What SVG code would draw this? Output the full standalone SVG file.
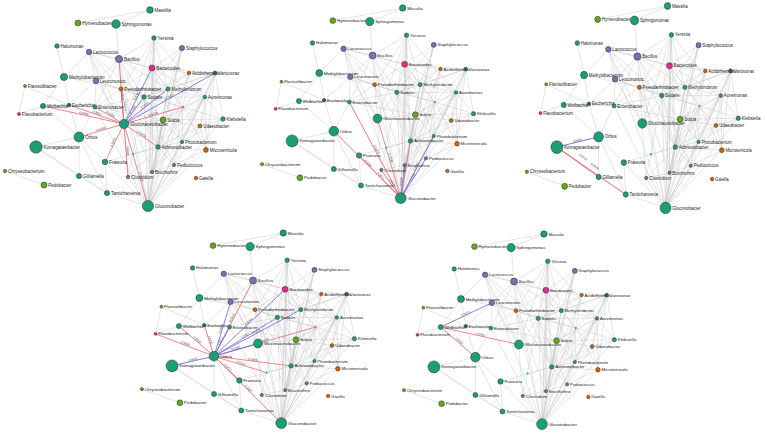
<svg xmlns="http://www.w3.org/2000/svg" xmlns:xlink="http://www.w3.org/1999/xlink" width="767" height="435" viewBox="0 0 767 435">
<style>
.e{stroke:#cacaca;stroke-width:0.5;fill:none}
.r{stroke:#e5676b;stroke-width:0.8}
.u{stroke:#6a5fd6;stroke-width:0.8}
circle{stroke:#2a2a2a;stroke-width:0.5}
.g{fill:#1b9e77}.p{fill:#7570b3}.o{fill:#d95f02}.k{fill:#e7298a}.y{fill:#66a61e}.b{fill:#a6761d}.d{fill:#176b52}.s{fill:#2fc48a;stroke:none}
.t{font-family:"Liberation Sans",Arial,sans-serif;font-size:4.5px;fill:#222}
.w{font-family:"Liberation Sans",Arial,sans-serif;font-size:3.1px;fill:#444;text-anchor:middle}
</style>
<defs>
<path id="grayNet" class="e" d="M150 10L78 23M150 10L116 24M116 24L119 59M57 46L64 77M89 52L64 77M89 52L119 59M89 52L96 81M89 52L121 89M89 52L124 124M89 52L152 68M89 52L144 97M89 52L148 206M154 38L152 68M154 38L168 89M154 38L144 97M154 38L121 89M154 38L124 124M154 38L158 147M154 38L152 172M154 38L205 97M154 38L119 59M154 38L148 206M182 48L152 68M182 48L168 89M182 48L144 97M182 48L158 147M182 48L152 172M182 48L148 206M119 59L152 68M119 59L121 89M119 59L144 97M119 59L168 89M119 59L158 147M119 59L95 107M119 59L96 81M119 59L148 206M152 68L121 89M152 68L168 89M152 68L144 97M152 68L189 73M152 68L215 73M152 68L205 97M152 68L158 147M152 68L152 172M152 68L182 142M152 68L183 107M152 68L148 206M189 73L215 73M189 73L168 89M189 73L144 97M189 73L183 107M189 73L158 147M189 73L148 206M215 73L168 89M215 73L205 97M215 73L183 107M215 73L223 119M215 73L200 126M215 73L182 142M215 73L206 150M215 73L144 97M215 73L148 206M64 77L96 81M64 77L69 105M64 77L43 106M64 77L121 89M96 81L121 89M96 81L95 107M96 81L69 105M96 81L144 97M96 81L124 124M25 86L19 114M25 86L69 105M121 89L168 89M121 89L144 97M121 89L95 107M121 89L158 147M121 89L152 172M121 89L128 177M121 89L183 107M121 89L148 206M168 89L144 97M168 89L205 97M168 89L183 107M168 89L158 147M168 89L152 172M168 89L148 206M144 97L205 97M144 97L183 107M144 97L163 120M144 97L158 147M144 97L152 172M144 97L128 177M144 97L148 206M144 97L174 165M205 97L183 107M205 97L223 119M205 97L200 126M205 97L158 147M205 97L163 120M205 97L182 142M205 97L206 150M205 97L152 172M205 97L148 206M43 106L69 105M43 106L95 107M43 106L79 137M43 106L19 114M69 105L95 107M69 105L79 137M95 107L79 137M95 107L163 120M95 107L144 97M95 107L148 206M183 107L163 120M183 107L223 119M183 107L200 126M183 107L158 147M183 107L182 142M183 107L152 172M183 107L174 165M183 107L148 206M183 107L206 150M163 120L158 147M163 120L200 126M163 120L182 142M163 120L152 172M163 120L148 206M163 120L223 119M223 119L200 126M223 119L182 142M223 119L148 206M200 126L182 142M200 126L158 147M200 126L206 150M200 126L148 206M79 137L36 147M79 137L105 162M79 137L79 176M79 137L107 193M36 147L79 176M36 147L107 193M5 171L44 185M79 176L107 193M105 162L107 193M105 162L148 206M105 162L158 147M158 147L182 142M158 147L152 172M158 147L174 165M158 147L148 206M158 147L128 177M158 147L206 150M182 142L174 165M182 142L152 172M182 142L148 206M206 150L174 165M206 150L148 206M174 165L152 172M174 165L148 206M152 172L148 206M152 172L128 177M128 177L148 206M133 154L158 147M107 193L148 206M124 124L163 120M124 124L144 97"/>
</defs>
<rect width="767" height="435" fill="#ffffff"/>

<g id="connectors">
<g id="p1-edges">
<use xlink:href="#grayNet" href="#grayNet"/>
<g class="r"><line x1="124" y1="124" x2="119" y2="59"/><line x1="124" y1="124" x2="121" y2="89"/><line x1="124" y1="124" x2="43" y2="106"/><line x1="124" y1="124" x2="69" y2="105"/><line x1="124" y1="124" x2="95" y2="107"/><line x1="124" y1="124" x2="79" y2="137"/><line x1="124" y1="124" x2="105" y2="162"/><line x1="124" y1="124" x2="128" y2="177"/><line x1="124" y1="124" x2="148" y2="206"/><line x1="124" y1="124" x2="158" y2="147"/><line x1="124" y1="124" x2="183" y2="107"/></g>
<g class="u"><line x1="124" y1="124" x2="152" y2="68"/><line x1="124" y1="124" x2="144" y2="97"/><line x1="124" y1="124" x2="168" y2="89"/><line x1="124" y1="124" x2="215" y2="73"/></g>
<g class="w">
<text transform="translate(120.8,96) rotate(85.6)" dy="-0.6">0.5531</text>
<text transform="translate(123.6,106.5) rotate(85.1)" dy="-0.6">0.5479</text>
<text transform="translate(83.5,115) rotate(12.5)" dy="-0.6">0.5696</text>
<text transform="translate(96.5,114.5) rotate(19.1)" dy="-0.6">0.5612</text>
<text transform="translate(109.5,115.5) rotate(30.4)" dy="-0.6">0.5562</text>
<text transform="translate(101.5,130.5) rotate(-16.1)" dy="-0.6">0.5930</text>
<text transform="translate(114.5,143) rotate(-63.4)" dy="-0.6">0.5823</text>
<text transform="translate(126,150.5) rotate(85.7)" dy="-0.6">0.5898</text>
<text transform="translate(139.6,177.3) rotate(73.7)" dy="-0.6">0.7026</text>
<text transform="translate(141,135.5) rotate(34.1)" dy="-0.6">0.5878</text>
<text transform="translate(153.5,115.5) rotate(-16.1)" dy="-0.6">0.5418</text>
<text transform="translate(138,96) rotate(-63.4)" dy="-0.6">0.5467</text>
<text transform="translate(134,110.5) rotate(-53.5)" dy="-0.6">0.5385</text>
<text transform="translate(146,106.5) rotate(-38.5)" dy="-0.6">0.5271</text>
<text transform="translate(169.5,98.5) rotate(-29.3)" dy="-0.6">0.5322</text>
</g>
</g>
<g id="p2-edges" transform="translate(257.2,-1.7) scale(0.97)">
<use xlink:href="#grayNet" href="#grayNet"/>
<g class="r"><line x1="148" y1="206" x2="95" y2="107"/><line x1="148" y1="206" x2="79" y2="137"/><line x1="148" y1="206" x2="124" y2="124"/><line x1="148" y1="206" x2="105" y2="162"/><line x1="148" y1="206" x2="158" y2="147"/><line x1="148" y1="206" x2="128" y2="177"/></g>
<g class="u"><line x1="148" y1="206" x2="152" y2="172"/><line x1="148" y1="206" x2="174" y2="165"/><line x1="148" y1="206" x2="182" y2="142"/></g>
<g class="w">
<text transform="translate(121.5,156.5) rotate(61.8)" dy="-0.6">0.5674</text>
<text transform="translate(113.5,171.5) rotate(45)" dy="-0.6">0.5597</text>
<text transform="translate(136,165) rotate(73.7)" dy="-0.6">0.7026</text>
<text transform="translate(126.5,184) rotate(45.7)" dy="-0.6">0.5823</text>
<text transform="translate(153,176.5) rotate(-80.4)" dy="-0.6">0.5592</text>
<text transform="translate(138,191.5) rotate(55.4)" dy="-0.6">0.5516</text>
<text transform="translate(150,189) rotate(-83.3)" dy="-0.6">0.5645</text>
<text transform="translate(161,185.5) rotate(-57.6)" dy="-0.6">0.5318</text>
<text transform="translate(165,174) rotate(-62)" dy="-0.6">0.5402</text>
</g>
</g>
<g id="p3-edges" transform="translate(522,-4.3) scale(0.97,1.03)">
<use xlink:href="#grayNet" href="#grayNet"/>
<line class="u" x1="36" y1="147" x2="79" y2="137"/>
<line class="r" x1="36" y1="147" x2="79" y2="176"/>
<line class="r" x1="36" y1="147" x2="107" y2="193"/>
<g class="w">
<text transform="translate(57.5,142) rotate(-13.1)" dy="-0.6">0.6443</text>
<text transform="translate(62,158) rotate(34)" dy="-0.6">0.5726</text>
<text transform="translate(74,167) rotate(32.9)" dy="-0.6">0.5528</text>
</g>
</g>
<g id="p4-edges" transform="translate(137,223.3) scale(0.975,0.97)">
<use xlink:href="#grayNet" href="#grayNet"/>
<g class="r"><line x1="79" y1="137" x2="119" y2="59"/><line x1="79" y1="137" x2="43" y2="106"/><line x1="79" y1="137" x2="69" y2="105"/><line x1="79" y1="137" x2="19" y2="114"/><line x1="79" y1="137" x2="183" y2="107"/><line x1="79" y1="137" x2="158" y2="147"/><line x1="79" y1="137" x2="133" y2="154"/><line x1="79" y1="137" x2="105" y2="162"/><line x1="79" y1="137" x2="148" y2="206"/></g>
<g class="u"><line x1="79" y1="137" x2="96" y2="81"/><line x1="79" y1="137" x2="152" y2="68"/><line x1="79" y1="137" x2="144" y2="97"/><line x1="79" y1="137" x2="168" y2="89"/><line x1="79" y1="137" x2="124" y2="124"/><line x1="79" y1="137" x2="36" y2="147"/><line x1="79" y1="137" x2="95" y2="107"/></g>
<g class="w">
<text transform="translate(99,98) rotate(-62.9)" dy="-0.6">0.5618</text>
<text transform="translate(61,121.5) rotate(40.7)" dy="-0.6">0.5528</text>
<text transform="translate(74,121) rotate(72.6)" dy="-0.6">0.5731</text>
<text transform="translate(49,125.5) rotate(21)" dy="-0.6">0.5686</text>
<text transform="translate(131,122) rotate(-16.1)" dy="-0.6">0.5413</text>
<text transform="translate(118.5,142) rotate(7.2)" dy="-0.6">0.5884</text>
<text transform="translate(106,145.5) rotate(17.5)" dy="-0.6">0.5412</text>
<text transform="translate(92,149.5) rotate(43.9)" dy="-0.6">0.5425</text>
<text transform="translate(113.5,171.5) rotate(45)" dy="-0.6">0.5597</text>
<text transform="translate(87.5,109) rotate(-73.1)" dy="-0.6">0.5526</text>
<text transform="translate(115.5,102.5) rotate(-43.4)" dy="-0.6">0.5302</text>
<text transform="translate(111.5,117) rotate(-31.6)" dy="-0.6">0.5487</text>
<text transform="translate(123.5,113) rotate(-28.3)" dy="-0.6">0.5251</text>
<text transform="translate(101.5,130.5) rotate(-16.1)" dy="-0.6">0.5930</text>
<text transform="translate(57.5,142) rotate(-13.1)" dy="-0.6">0.6443</text>
<text transform="translate(87,122) rotate(-61.9)" dy="-0.6">0.5377</text>
</g>
</g>
<g id="p5-edges" transform="translate(399.2,224.3) scale(0.965,0.97)">
<use xlink:href="#grayNet" href="#grayNet"/>
<line class="u" x1="43" y1="106" x2="96" y2="81"/>
<line class="r" x1="43" y1="106" x2="124" y2="124"/>
<line class="r" x1="43" y1="106" x2="79" y2="137"/>
<g class="w">
<text transform="translate(69.5,93.5) rotate(-25.3)" dy="-0.6">0.5372</text>
<text transform="translate(83.5,115) rotate(12.5)" dy="-0.6">0.5798</text>
<text transform="translate(61,121.5) rotate(40.7)" dy="-0.6">0.5528</text>
</g>
</g>
</g>

<g id="panel1">
<g id="p1-Massilia"><circle class="g" cx="150" cy="10" r="3.3"/><text class="t" x="154.6" y="11.6">Massilia</text></g>
<g id="p1-Hymenobacter"><circle class="y" cx="78" cy="23" r="3"/><text class="t" x="82.3" y="24.6">Hymenobacter</text></g>
<g id="p1-Sphingomonas"><circle class="g" cx="116" cy="24" r="4.3"/><text class="t" x="121.6" y="25.6">Sphingomonas</text></g>
<g id="p1-Yersinia"><circle class="g" cx="154" cy="38" r="2.3"/><text class="t" x="157.6" y="39.6">Yersinia</text></g>
<g id="p1-Halomonas"><circle class="g" cx="57" cy="46" r="2.3"/><text class="t" x="60.6" y="47.6">Halomonas</text></g>
<g id="p1-Lactococcus"><circle class="p" cx="89" cy="52" r="2.8"/><text class="t" x="93.1" y="53.6">Lactococcus</text></g>
<g id="p1-Staphylococcus"><circle class="p" cx="182" cy="48" r="2.6"/><text class="t" x="185.9" y="49.6">Staphylococcus</text></g>
<g id="p1-Bacillus"><circle class="p" cx="119" cy="59" r="3.6"/><text class="t" x="123.9" y="60.6">Bacillus</text></g>
<g id="p1-Bacteroides"><circle class="k" cx="152" cy="68" r="3"/><text class="t" x="156.3" y="69.6">Bacteroides</text></g>
<g id="p1-Acidothermus"><circle class="o" cx="189" cy="73" r="1.8"/><text class="t" x="192.1" y="74.6">Acidothermus</text></g>
<g id="p1-Variovorax"><circle class="d" cx="215" cy="73" r="2"/><text class="t" x="218.3" y="74.6">Variovorax</text></g>
<g id="p1-Methylobacterium"><circle class="g" cx="64" cy="77" r="3.6"/><text class="t" x="68.9" y="78.6">Methylobacterium</text></g>
<g id="p1-Leuconostoc"><circle class="p" cx="96" cy="81" r="2.8"/><text class="t" x="100.1" y="82.6">Leuconostoc</text></g>
<g id="p1-Flavisolibacter"><circle class="y" cx="25" cy="86" r="1.5"/><text class="t" x="27.8" y="87.6">Flavisolibacter</text></g>
<g id="p1-Pseudarthrobacter"><circle class="o" cx="121" cy="89" r="2"/><text class="t" x="124.3" y="90.6">Pseudarthrobacter</text></g>
<g id="p1-Methylorubrum"><circle class="g" cx="168" cy="89" r="2.1"/><text class="t" x="171.4" y="90.6">Methylorubrum</text></g>
<g id="p1-Sodalis"><circle class="g" cx="144" cy="97" r="2.2"/><text class="t" x="147.5" y="98.6">Sodalis</text></g>
<g id="p1-Aureimonas"><circle class="g" cx="205" cy="97" r="1.8"/><text class="t" x="208.1" y="98.6">Aureimonas</text></g>
<g id="p1-Wolbachia"><circle class="g" cx="43" cy="106" r="2.6"/><text class="t" x="46.9" y="107.6">Wolbachia</text></g>
<g id="p1-Escherichia"><circle class="d" cx="69" cy="105" r="1.8"/><text class="t" x="72.1" y="106.6">Escherichia</text></g>
<g id="p1-Enterobacter"><circle class="g" cx="95" cy="107" r="2"/><text class="t" x="98.3" y="108.6">Enterobacter</text></g>
<g id="p1-n1"><circle class="o" cx="183" cy="107" r="1" style="stroke:none"/></g>
<g id="p1-Flavobacterium"><circle class="k" cx="19" cy="114" r="1.5"/><text class="t" x="21.8" y="115.6">Flavobacterium</text></g>
<g id="p1-Gluconacetobacter"><circle class="g" cx="124" cy="124" r="4.6"/><text class="t" x="129.9" y="125.6">Gluconacetobacter</text></g>
<g id="p1-Sulcia"><circle class="y" cx="163" cy="120" r="3"/><text class="t" x="167.3" y="121.6">Sulcia</text></g>
<g id="p1-Klebsiella"><circle class="g" cx="223" cy="119" r="2.2"/><text class="t" x="226.5" y="120.6">Klebsiella</text></g>
<g id="p1-Udaeobacter"><circle class="b" cx="200" cy="126" r="2"/><text class="t" x="203.3" y="127.6">Udaeobacter</text></g>
<g id="p1-Orbus"><circle class="g" cx="79" cy="137" r="5"/><text class="t" x="85.3" y="138.6">Orbus</text></g>
<g id="p1-Komagataeibacter"><circle class="g" cx="36" cy="147" r="6.2"/><text class="t" x="43.5" y="148.6">Komagataeibacter</text></g>
<g id="p1-Photobacterium"><circle class="g" cx="182" cy="142" r="1.7"/><text class="t" x="185" y="143.6">Photobacterium</text></g>
<g id="p1-Achromobacter"><circle class="g" cx="158" cy="147" r="2.3"/><text class="t" x="161.6" y="148.6">Achromobacter</text></g>
<g id="p1-Microterricola"><circle class="o" cx="206" cy="150" r="2.4"/><text class="t" x="209.7" y="151.6">Microterricola</text></g>
<g id="p1-n2"><circle class="s" cx="133" cy="154" r="1.2"/></g>
<g id="p1-Frateuria"><circle class="g" cx="105" cy="162" r="2.8"/><text class="t" x="109.1" y="163.6">Frateuria</text></g>
<g id="p1-Pediococcus"><circle class="p" cx="174" cy="165" r="1.7"/><text class="t" x="177" y="166.6">Pediococcus</text></g>
<g id="p1-Chryseobacterium"><circle class="y" cx="5" cy="171" r="1.7"/><text class="t" x="8" y="172.6">Chryseobacterium</text></g>
<g id="p1-Brochothrix"><circle class="p" cx="152" cy="172" r="1.7"/><text class="t" x="155" y="173.6">Brochothrix</text></g>
<g id="p1-Gilliamella"><circle class="g" cx="79" cy="176" r="2.6"/><text class="t" x="82.9" y="177.6">Gilliamella</text></g>
<g id="p1-Clostridium"><circle class="p" cx="128" cy="177" r="1.7"/><text class="t" x="131" y="178.6">Clostridium</text></g>
<g id="p1-Gaiella"><circle class="o" cx="196" cy="178" r="1.8"/><text class="t" x="199.1" y="179.6">Gaiella</text></g>
<g id="p1-Pedobacter"><circle class="y" cx="44" cy="185" r="3"/><text class="t" x="48.3" y="186.6">Pedobacter</text></g>
<g id="p1-Tanticharoenia"><circle class="g" cx="107" cy="193" r="2.6"/><text class="t" x="110.9" y="194.6">Tanticharoenia</text></g>
<g id="p1-Gluconobacter"><circle class="g" cx="148" cy="206" r="5.6"/><text class="t" x="154.9" y="207.6">Gluconobacter</text></g>
</g>

<g id="panel2" transform="translate(257.2,-1.7) scale(0.97)">
<g id="p2-Massilia"><circle class="g" cx="150" cy="10" r="3.3"/><text class="t" x="154.6" y="11.6">Massilia</text></g>
<g id="p2-Hymenobacter"><circle class="y" cx="78" cy="23" r="3"/><text class="t" x="82.3" y="24.6">Hymenobacter</text></g>
<g id="p2-Sphingomonas"><circle class="g" cx="116" cy="24" r="4.3"/><text class="t" x="121.6" y="25.6">Sphingomonas</text></g>
<g id="p2-Yersinia"><circle class="g" cx="154" cy="38" r="2.3"/><text class="t" x="157.6" y="39.6">Yersinia</text></g>
<g id="p2-Halomonas"><circle class="g" cx="57" cy="46" r="2.3"/><text class="t" x="60.6" y="47.6">Halomonas</text></g>
<g id="p2-Lactococcus"><circle class="p" cx="89" cy="52" r="2.8"/><text class="t" x="93.1" y="53.6">Lactococcus</text></g>
<g id="p2-Staphylococcus"><circle class="p" cx="182" cy="48" r="2.6"/><text class="t" x="185.9" y="49.6">Staphylococcus</text></g>
<g id="p2-Bacillus"><circle class="p" cx="119" cy="59" r="3.6"/><text class="t" x="123.9" y="60.6">Bacillus</text></g>
<g id="p2-Bacteroides"><circle class="k" cx="152" cy="68" r="3"/><text class="t" x="156.3" y="69.6">Bacteroides</text></g>
<g id="p2-Acidothermus"><circle class="o" cx="189" cy="73" r="1.8"/><text class="t" x="192.1" y="74.6">Acidothermus</text></g>
<g id="p2-Variovorax"><circle class="d" cx="215" cy="73" r="2"/><text class="t" x="218.3" y="74.6">Variovorax</text></g>
<g id="p2-Methylobacterium"><circle class="g" cx="64" cy="77" r="3.6"/><text class="t" x="68.9" y="78.6">Methylobacterium</text></g>
<g id="p2-Leuconostoc"><circle class="p" cx="96" cy="81" r="2.8"/><text class="t" x="100.1" y="82.6">Leuconostoc</text></g>
<g id="p2-Flavisolibacter"><circle class="y" cx="25" cy="86" r="1.5"/><text class="t" x="27.8" y="87.6">Flavisolibacter</text></g>
<g id="p2-Pseudarthrobacter"><circle class="o" cx="121" cy="89" r="2"/><text class="t" x="124.3" y="90.6">Pseudarthrobacter</text></g>
<g id="p2-Methylorubrum"><circle class="g" cx="168" cy="89" r="2.1"/><text class="t" x="171.4" y="90.6">Methylorubrum</text></g>
<g id="p2-Sodalis"><circle class="g" cx="144" cy="97" r="2.2"/><text class="t" x="147.5" y="98.6">Sodalis</text></g>
<g id="p2-Aureimonas"><circle class="g" cx="205" cy="97" r="1.8"/><text class="t" x="208.1" y="98.6">Aureimonas</text></g>
<g id="p2-Wolbachia"><circle class="g" cx="43" cy="106" r="2.6"/><text class="t" x="46.9" y="107.6">Wolbachia</text></g>
<g id="p2-Escherichia"><circle class="d" cx="69" cy="105" r="1.8"/><text class="t" x="72.1" y="106.6">Escherichia</text></g>
<g id="p2-Enterobacter"><circle class="g" cx="95" cy="107" r="2"/><text class="t" x="98.3" y="108.6">Enterobacter</text></g>
<g id="p2-n1"><circle class="o" cx="183" cy="107" r="1" style="stroke:none"/></g>
<g id="p2-Flavobacterium"><circle class="k" cx="19" cy="114" r="1.5"/><text class="t" x="21.8" y="115.6">Flavobacterium</text></g>
<g id="p2-Gluconacetobacter"><circle class="g" cx="124" cy="124" r="4.6"/><text class="t" x="129.9" y="125.6">Gluconacetobacter</text></g>
<g id="p2-Sulcia"><circle class="y" cx="163" cy="120" r="3"/><text class="t" x="167.3" y="121.6">Sulcia</text></g>
<g id="p2-Klebsiella"><circle class="g" cx="223" cy="119" r="2.2"/><text class="t" x="226.5" y="120.6">Klebsiella</text></g>
<g id="p2-Udaeobacter"><circle class="b" cx="200" cy="126" r="2"/><text class="t" x="203.3" y="127.6">Udaeobacter</text></g>
<g id="p2-Orbus"><circle class="g" cx="79" cy="137" r="5"/><text class="t" x="85.3" y="138.6">Orbus</text></g>
<g id="p2-Komagataeibacter"><circle class="g" cx="36" cy="147" r="6.2"/><text class="t" x="43.5" y="148.6">Komagataeibacter</text></g>
<g id="p2-Photobacterium"><circle class="g" cx="182" cy="142" r="1.7"/><text class="t" x="185" y="143.6">Photobacterium</text></g>
<g id="p2-Achromobacter"><circle class="g" cx="158" cy="147" r="2.3"/><text class="t" x="161.6" y="148.6">Achromobacter</text></g>
<g id="p2-Microterricola"><circle class="o" cx="206" cy="150" r="2.4"/><text class="t" x="209.7" y="151.6">Microterricola</text></g>
<g id="p2-n2"><circle class="s" cx="133" cy="154" r="1.2"/></g>
<g id="p2-Frateuria"><circle class="g" cx="105" cy="162" r="2.8"/><text class="t" x="109.1" y="163.6">Frateuria</text></g>
<g id="p2-Pediococcus"><circle class="p" cx="174" cy="165" r="1.7"/><text class="t" x="177" y="166.6">Pediococcus</text></g>
<g id="p2-Chryseobacterium"><circle class="y" cx="5" cy="171" r="1.7"/><text class="t" x="8" y="172.6">Chryseobacterium</text></g>
<g id="p2-Brochothrix"><circle class="p" cx="152" cy="172" r="1.7"/><text class="t" x="155" y="173.6">Brochothrix</text></g>
<g id="p2-Gilliamella"><circle class="g" cx="79" cy="176" r="2.6"/><text class="t" x="82.9" y="177.6">Gilliamella</text></g>
<g id="p2-Clostridium"><circle class="p" cx="128" cy="177" r="1.7"/><text class="t" x="131" y="178.6">Clostridium</text></g>
<g id="p2-Gaiella"><circle class="o" cx="196" cy="178" r="1.8"/><text class="t" x="199.1" y="179.6">Gaiella</text></g>
<g id="p2-Pedobacter"><circle class="y" cx="44" cy="185" r="3"/><text class="t" x="48.3" y="186.6">Pedobacter</text></g>
<g id="p2-Tanticharoenia"><circle class="g" cx="107" cy="193" r="2.6"/><text class="t" x="110.9" y="194.6">Tanticharoenia</text></g>
<g id="p2-Gluconobacter"><circle class="g" cx="148" cy="206" r="5.6"/><text class="t" x="154.9" y="207.6">Gluconobacter</text></g>
</g>

<g id="panel3" transform="translate(522,-4.3) scale(0.97,1.03)">
<g id="p3-Massilia"><circle class="g" cx="150" cy="10" r="3.3"/><text class="t" x="154.6" y="11.6">Massilia</text></g>
<g id="p3-Hymenobacter"><circle class="y" cx="78" cy="23" r="3"/><text class="t" x="82.3" y="24.6">Hymenobacter</text></g>
<g id="p3-Sphingomonas"><circle class="g" cx="116" cy="24" r="4.3"/><text class="t" x="121.6" y="25.6">Sphingomonas</text></g>
<g id="p3-Yersinia"><circle class="g" cx="154" cy="38" r="2.3"/><text class="t" x="157.6" y="39.6">Yersinia</text></g>
<g id="p3-Halomonas"><circle class="g" cx="57" cy="46" r="2.3"/><text class="t" x="60.6" y="47.6">Halomonas</text></g>
<g id="p3-Lactococcus"><circle class="p" cx="89" cy="52" r="2.8"/><text class="t" x="93.1" y="53.6">Lactococcus</text></g>
<g id="p3-Staphylococcus"><circle class="p" cx="182" cy="48" r="2.6"/><text class="t" x="185.9" y="49.6">Staphylococcus</text></g>
<g id="p3-Bacillus"><circle class="p" cx="119" cy="59" r="3.6"/><text class="t" x="123.9" y="60.6">Bacillus</text></g>
<g id="p3-Bacteroides"><circle class="k" cx="152" cy="68" r="3"/><text class="t" x="156.3" y="69.6">Bacteroides</text></g>
<g id="p3-Acidothermus"><circle class="o" cx="189" cy="73" r="1.8"/><text class="t" x="192.1" y="74.6">Acidothermus</text></g>
<g id="p3-Variovorax"><circle class="d" cx="215" cy="73" r="2"/><text class="t" x="218.3" y="74.6">Variovorax</text></g>
<g id="p3-Methylobacterium"><circle class="g" cx="64" cy="77" r="3.6"/><text class="t" x="68.9" y="78.6">Methylobacterium</text></g>
<g id="p3-Leuconostoc"><circle class="p" cx="96" cy="81" r="2.8"/><text class="t" x="100.1" y="82.6">Leuconostoc</text></g>
<g id="p3-Flavisolibacter"><circle class="y" cx="25" cy="86" r="1.5"/><text class="t" x="27.8" y="87.6">Flavisolibacter</text></g>
<g id="p3-Pseudarthrobacter"><circle class="o" cx="121" cy="89" r="2"/><text class="t" x="124.3" y="90.6">Pseudarthrobacter</text></g>
<g id="p3-Methylorubrum"><circle class="g" cx="168" cy="89" r="2.1"/><text class="t" x="171.4" y="90.6">Methylorubrum</text></g>
<g id="p3-Sodalis"><circle class="g" cx="144" cy="97" r="2.2"/><text class="t" x="147.5" y="98.6">Sodalis</text></g>
<g id="p3-Aureimonas"><circle class="g" cx="205" cy="97" r="1.8"/><text class="t" x="208.1" y="98.6">Aureimonas</text></g>
<g id="p3-Wolbachia"><circle class="g" cx="43" cy="106" r="2.6"/><text class="t" x="46.9" y="107.6">Wolbachia</text></g>
<g id="p3-Escherichia"><circle class="d" cx="69" cy="105" r="1.8"/><text class="t" x="72.1" y="106.6">Escherichia</text></g>
<g id="p3-Enterobacter"><circle class="g" cx="95" cy="107" r="2"/><text class="t" x="98.3" y="108.6">Enterobacter</text></g>
<g id="p3-n1"><circle class="o" cx="183" cy="107" r="1" style="stroke:none"/></g>
<g id="p3-Flavobacterium"><circle class="k" cx="19" cy="114" r="1.5"/><text class="t" x="21.8" y="115.6">Flavobacterium</text></g>
<g id="p3-Gluconacetobacter"><circle class="g" cx="124" cy="124" r="4.6"/><text class="t" x="129.9" y="125.6">Gluconacetobacter</text></g>
<g id="p3-Sulcia"><circle class="y" cx="163" cy="120" r="3"/><text class="t" x="167.3" y="121.6">Sulcia</text></g>
<g id="p3-Klebsiella"><circle class="g" cx="223" cy="119" r="2.2"/><text class="t" x="226.5" y="120.6">Klebsiella</text></g>
<g id="p3-Udaeobacter"><circle class="b" cx="200" cy="126" r="2"/><text class="t" x="203.3" y="127.6">Udaeobacter</text></g>
<g id="p3-Orbus"><circle class="g" cx="79" cy="137" r="5"/><text class="t" x="85.3" y="138.6">Orbus</text></g>
<g id="p3-Komagataeibacter"><circle class="g" cx="36" cy="147" r="6.2"/><text class="t" x="43.5" y="148.6">Komagataeibacter</text></g>
<g id="p3-Photobacterium"><circle class="g" cx="182" cy="142" r="1.7"/><text class="t" x="185" y="143.6">Photobacterium</text></g>
<g id="p3-Achromobacter"><circle class="g" cx="158" cy="147" r="2.3"/><text class="t" x="161.6" y="148.6">Achromobacter</text></g>
<g id="p3-Microterricola"><circle class="o" cx="206" cy="150" r="2.4"/><text class="t" x="209.7" y="151.6">Microterricola</text></g>
<g id="p3-n2"><circle class="s" cx="133" cy="154" r="1.2"/></g>
<g id="p3-Frateuria"><circle class="g" cx="105" cy="162" r="2.8"/><text class="t" x="109.1" y="163.6">Frateuria</text></g>
<g id="p3-Pediococcus"><circle class="p" cx="174" cy="165" r="1.7"/><text class="t" x="177" y="166.6">Pediococcus</text></g>
<g id="p3-Chryseobacterium"><circle class="y" cx="5" cy="171" r="1.7"/><text class="t" x="8" y="172.6">Chryseobacterium</text></g>
<g id="p3-Brochothrix"><circle class="p" cx="152" cy="172" r="1.7"/><text class="t" x="155" y="173.6">Brochothrix</text></g>
<g id="p3-Gilliamella"><circle class="g" cx="79" cy="176" r="2.6"/><text class="t" x="82.9" y="177.6">Gilliamella</text></g>
<g id="p3-Clostridium"><circle class="p" cx="128" cy="177" r="1.7"/><text class="t" x="131" y="178.6">Clostridium</text></g>
<g id="p3-Gaiella"><circle class="o" cx="196" cy="178" r="1.8"/><text class="t" x="199.1" y="179.6">Gaiella</text></g>
<g id="p3-Pedobacter"><circle class="y" cx="44" cy="185" r="3"/><text class="t" x="48.3" y="186.6">Pedobacter</text></g>
<g id="p3-Tanticharoenia"><circle class="g" cx="107" cy="193" r="2.6"/><text class="t" x="110.9" y="194.6">Tanticharoenia</text></g>
<g id="p3-Gluconobacter"><circle class="g" cx="148" cy="206" r="5.6"/><text class="t" x="154.9" y="207.6">Gluconobacter</text></g>
</g>

<g id="panel4" transform="translate(137,223.3) scale(0.975,0.97)">
<g id="p4-Massilia"><circle class="g" cx="150" cy="10" r="3.3"/><text class="t" x="154.6" y="11.6">Massilia</text></g>
<g id="p4-Hymenobacter"><circle class="y" cx="78" cy="23" r="3"/><text class="t" x="82.3" y="24.6">Hymenobacter</text></g>
<g id="p4-Sphingomonas"><circle class="g" cx="116" cy="24" r="4.3"/><text class="t" x="121.6" y="25.6">Sphingomonas</text></g>
<g id="p4-Yersinia"><circle class="g" cx="154" cy="38" r="2.3"/><text class="t" x="157.6" y="39.6">Yersinia</text></g>
<g id="p4-Halomonas"><circle class="g" cx="57" cy="46" r="2.3"/><text class="t" x="60.6" y="47.6">Halomonas</text></g>
<g id="p4-Lactococcus"><circle class="p" cx="89" cy="52" r="2.8"/><text class="t" x="93.1" y="53.6">Lactococcus</text></g>
<g id="p4-Staphylococcus"><circle class="p" cx="182" cy="48" r="2.6"/><text class="t" x="185.9" y="49.6">Staphylococcus</text></g>
<g id="p4-Bacillus"><circle class="p" cx="119" cy="59" r="3.6"/><text class="t" x="123.9" y="60.6">Bacillus</text></g>
<g id="p4-Bacteroides"><circle class="k" cx="152" cy="68" r="3"/><text class="t" x="156.3" y="69.6">Bacteroides</text></g>
<g id="p4-Acidothermus"><circle class="o" cx="189" cy="73" r="1.8"/><text class="t" x="192.1" y="74.6">Acidothermus</text></g>
<g id="p4-Variovorax"><circle class="d" cx="215" cy="73" r="2"/><text class="t" x="218.3" y="74.6">Variovorax</text></g>
<g id="p4-Methylobacterium"><circle class="g" cx="64" cy="77" r="3.6"/><text class="t" x="68.9" y="78.6">Methylobacterium</text></g>
<g id="p4-Leuconostoc"><circle class="p" cx="96" cy="81" r="2.8"/><text class="t" x="100.1" y="82.6">Leuconostoc</text></g>
<g id="p4-Flavisolibacter"><circle class="y" cx="25" cy="86" r="1.5"/><text class="t" x="27.8" y="87.6">Flavisolibacter</text></g>
<g id="p4-Pseudarthrobacter"><circle class="o" cx="121" cy="89" r="2"/><text class="t" x="124.3" y="90.6">Pseudarthrobacter</text></g>
<g id="p4-Methylorubrum"><circle class="g" cx="168" cy="89" r="2.1"/><text class="t" x="171.4" y="90.6">Methylorubrum</text></g>
<g id="p4-Sodalis"><circle class="g" cx="144" cy="97" r="2.2"/><text class="t" x="147.5" y="98.6">Sodalis</text></g>
<g id="p4-Aureimonas"><circle class="g" cx="205" cy="97" r="1.8"/><text class="t" x="208.1" y="98.6">Aureimonas</text></g>
<g id="p4-Wolbachia"><circle class="g" cx="43" cy="106" r="2.6"/><text class="t" x="46.9" y="107.6">Wolbachia</text></g>
<g id="p4-Escherichia"><circle class="d" cx="69" cy="105" r="1.8"/><text class="t" x="72.1" y="106.6">Escherichia</text></g>
<g id="p4-Enterobacter"><circle class="g" cx="95" cy="107" r="2"/><text class="t" x="98.3" y="108.6">Enterobacter</text></g>
<g id="p4-n1"><circle class="o" cx="183" cy="107" r="1" style="stroke:none"/></g>
<g id="p4-Flavobacterium"><circle class="k" cx="19" cy="114" r="1.5"/><text class="t" x="21.8" y="115.6">Flavobacterium</text></g>
<g id="p4-Gluconacetobacter"><circle class="g" cx="124" cy="124" r="4.6"/><text class="t" x="129.9" y="125.6">Gluconacetobacter</text></g>
<g id="p4-Sulcia"><circle class="y" cx="163" cy="120" r="3"/><text class="t" x="167.3" y="121.6">Sulcia</text></g>
<g id="p4-Klebsiella"><circle class="g" cx="223" cy="119" r="2.2"/><text class="t" x="226.5" y="120.6">Klebsiella</text></g>
<g id="p4-Udaeobacter"><circle class="b" cx="200" cy="126" r="2"/><text class="t" x="203.3" y="127.6">Udaeobacter</text></g>
<g id="p4-Orbus"><circle class="g" cx="79" cy="137" r="5"/><text class="t" x="85.3" y="138.6">Orbus</text></g>
<g id="p4-Komagataeibacter"><circle class="g" cx="36" cy="147" r="6.2"/><text class="t" x="43.5" y="148.6">Komagataeibacter</text></g>
<g id="p4-Photobacterium"><circle class="g" cx="182" cy="142" r="1.7"/><text class="t" x="185" y="143.6">Photobacterium</text></g>
<g id="p4-Achromobacter"><circle class="g" cx="158" cy="147" r="2.3"/><text class="t" x="161.6" y="148.6">Achromobacter</text></g>
<g id="p4-Microterricola"><circle class="o" cx="206" cy="150" r="2.4"/><text class="t" x="209.7" y="151.6">Microterricola</text></g>
<g id="p4-n2"><circle class="s" cx="133" cy="154" r="1.2"/></g>
<g id="p4-Frateuria"><circle class="g" cx="105" cy="162" r="2.8"/><text class="t" x="109.1" y="163.6">Frateuria</text></g>
<g id="p4-Pediococcus"><circle class="p" cx="174" cy="165" r="1.7"/><text class="t" x="177" y="166.6">Pediococcus</text></g>
<g id="p4-Chryseobacterium"><circle class="y" cx="5" cy="171" r="1.7"/><text class="t" x="8" y="172.6">Chryseobacterium</text></g>
<g id="p4-Brochothrix"><circle class="p" cx="152" cy="172" r="1.7"/><text class="t" x="155" y="173.6">Brochothrix</text></g>
<g id="p4-Gilliamella"><circle class="g" cx="79" cy="176" r="2.6"/><text class="t" x="82.9" y="177.6">Gilliamella</text></g>
<g id="p4-Clostridium"><circle class="p" cx="128" cy="177" r="1.7"/><text class="t" x="131" y="178.6">Clostridium</text></g>
<g id="p4-Gaiella"><circle class="o" cx="196" cy="178" r="1.8"/><text class="t" x="199.1" y="179.6">Gaiella</text></g>
<g id="p4-Pedobacter"><circle class="y" cx="44" cy="185" r="3"/><text class="t" x="48.3" y="186.6">Pedobacter</text></g>
<g id="p4-Tanticharoenia"><circle class="g" cx="107" cy="193" r="2.6"/><text class="t" x="110.9" y="194.6">Tanticharoenia</text></g>
<g id="p4-Gluconobacter"><circle class="g" cx="148" cy="206" r="5.6"/><text class="t" x="154.9" y="207.6">Gluconobacter</text></g>
</g>

<g id="panel5" transform="translate(399.2,224.3) scale(0.965,0.97)">
<g id="p5-Massilia"><circle class="g" cx="150" cy="10" r="3.3"/><text class="t" x="154.6" y="11.6">Massilia</text></g>
<g id="p5-Hymenobacter"><circle class="y" cx="78" cy="23" r="3"/><text class="t" x="82.3" y="24.6">Hymenobacter</text></g>
<g id="p5-Sphingomonas"><circle class="g" cx="116" cy="24" r="4.3"/><text class="t" x="121.6" y="25.6">Sphingomonas</text></g>
<g id="p5-Yersinia"><circle class="g" cx="154" cy="38" r="2.3"/><text class="t" x="157.6" y="39.6">Yersinia</text></g>
<g id="p5-Halomonas"><circle class="g" cx="57" cy="46" r="2.3"/><text class="t" x="60.6" y="47.6">Halomonas</text></g>
<g id="p5-Lactococcus"><circle class="p" cx="89" cy="52" r="2.8"/><text class="t" x="93.1" y="53.6">Lactococcus</text></g>
<g id="p5-Staphylococcus"><circle class="p" cx="182" cy="48" r="2.6"/><text class="t" x="185.9" y="49.6">Staphylococcus</text></g>
<g id="p5-Bacillus"><circle class="p" cx="119" cy="59" r="3.6"/><text class="t" x="123.9" y="60.6">Bacillus</text></g>
<g id="p5-Bacteroides"><circle class="k" cx="152" cy="68" r="3"/><text class="t" x="156.3" y="69.6">Bacteroides</text></g>
<g id="p5-Acidothermus"><circle class="o" cx="189" cy="73" r="1.8"/><text class="t" x="192.1" y="74.6">Acidothermus</text></g>
<g id="p5-Variovorax"><circle class="d" cx="215" cy="73" r="2"/><text class="t" x="218.3" y="74.6">Variovorax</text></g>
<g id="p5-Methylobacterium"><circle class="g" cx="64" cy="77" r="3.6"/><text class="t" x="68.9" y="78.6">Methylobacterium</text></g>
<g id="p5-Leuconostoc"><circle class="p" cx="96" cy="81" r="2.8"/><text class="t" x="100.1" y="82.6">Leuconostoc</text></g>
<g id="p5-Flavisolibacter"><circle class="y" cx="25" cy="86" r="1.5"/><text class="t" x="27.8" y="87.6">Flavisolibacter</text></g>
<g id="p5-Pseudarthrobacter"><circle class="o" cx="121" cy="89" r="2"/><text class="t" x="124.3" y="90.6">Pseudarthrobacter</text></g>
<g id="p5-Methylorubrum"><circle class="g" cx="168" cy="89" r="2.1"/><text class="t" x="171.4" y="90.6">Methylorubrum</text></g>
<g id="p5-Sodalis"><circle class="g" cx="144" cy="97" r="2.2"/><text class="t" x="147.5" y="98.6">Sodalis</text></g>
<g id="p5-Aureimonas"><circle class="g" cx="205" cy="97" r="1.8"/><text class="t" x="208.1" y="98.6">Aureimonas</text></g>
<g id="p5-Wolbachia"><circle class="g" cx="43" cy="106" r="2.6"/><text class="t" x="46.9" y="107.6">Wolbachia</text></g>
<g id="p5-Escherichia"><circle class="d" cx="69" cy="105" r="1.8"/><text class="t" x="72.1" y="106.6">Escherichia</text></g>
<g id="p5-Enterobacter"><circle class="g" cx="95" cy="107" r="2"/><text class="t" x="98.3" y="108.6">Enterobacter</text></g>
<g id="p5-n1"><circle class="o" cx="183" cy="107" r="1" style="stroke:none"/></g>
<g id="p5-Flavobacterium"><circle class="k" cx="19" cy="114" r="1.5"/><text class="t" x="21.8" y="115.6">Flavobacterium</text></g>
<g id="p5-Gluconacetobacter"><circle class="g" cx="124" cy="124" r="4.6"/><text class="t" x="129.9" y="125.6">Gluconacetobacter</text></g>
<g id="p5-Sulcia"><circle class="y" cx="163" cy="120" r="3"/><text class="t" x="167.3" y="121.6">Sulcia</text></g>
<g id="p5-Klebsiella"><circle class="g" cx="223" cy="119" r="2.2"/><text class="t" x="226.5" y="120.6">Klebsiella</text></g>
<g id="p5-Udaeobacter"><circle class="b" cx="200" cy="126" r="2"/><text class="t" x="203.3" y="127.6">Udaeobacter</text></g>
<g id="p5-Orbus"><circle class="g" cx="79" cy="137" r="5"/><text class="t" x="85.3" y="138.6">Orbus</text></g>
<g id="p5-Komagataeibacter"><circle class="g" cx="36" cy="147" r="6.2"/><text class="t" x="43.5" y="148.6">Komagataeibacter</text></g>
<g id="p5-Photobacterium"><circle class="g" cx="182" cy="142" r="1.7"/><text class="t" x="185" y="143.6">Photobacterium</text></g>
<g id="p5-Achromobacter"><circle class="g" cx="158" cy="147" r="2.3"/><text class="t" x="161.6" y="148.6">Achromobacter</text></g>
<g id="p5-Microterricola"><circle class="o" cx="206" cy="150" r="2.4"/><text class="t" x="209.7" y="151.6">Microterricola</text></g>
<g id="p5-n2"><circle class="s" cx="133" cy="154" r="1.2"/></g>
<g id="p5-Frateuria"><circle class="g" cx="105" cy="162" r="2.8"/><text class="t" x="109.1" y="163.6">Frateuria</text></g>
<g id="p5-Pediococcus"><circle class="p" cx="174" cy="165" r="1.7"/><text class="t" x="177" y="166.6">Pediococcus</text></g>
<g id="p5-Chryseobacterium"><circle class="y" cx="5" cy="171" r="1.7"/><text class="t" x="8" y="172.6">Chryseobacterium</text></g>
<g id="p5-Brochothrix"><circle class="p" cx="152" cy="172" r="1.7"/><text class="t" x="155" y="173.6">Brochothrix</text></g>
<g id="p5-Gilliamella"><circle class="g" cx="79" cy="176" r="2.6"/><text class="t" x="82.9" y="177.6">Gilliamella</text></g>
<g id="p5-Clostridium"><circle class="p" cx="128" cy="177" r="1.7"/><text class="t" x="131" y="178.6">Clostridium</text></g>
<g id="p5-Gaiella"><circle class="o" cx="196" cy="178" r="1.8"/><text class="t" x="199.1" y="179.6">Gaiella</text></g>
<g id="p5-Pedobacter"><circle class="y" cx="44" cy="185" r="3"/><text class="t" x="48.3" y="186.6">Pedobacter</text></g>
<g id="p5-Tanticharoenia"><circle class="g" cx="107" cy="193" r="2.6"/><text class="t" x="110.9" y="194.6">Tanticharoenia</text></g>
<g id="p5-Gluconobacter"><circle class="g" cx="148" cy="206" r="5.6"/><text class="t" x="154.9" y="207.6">Gluconobacter</text></g>
</g>
</svg>
